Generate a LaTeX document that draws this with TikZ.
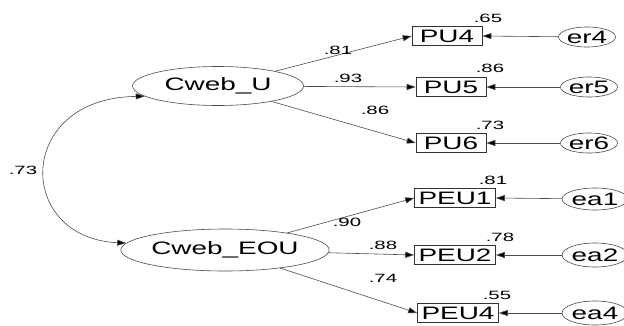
\documentclass[tikz,border=0pt]{standalone}
\usepackage{fontspec}
\usepackage{graphicx}
\setmainfont{Liberation Sans}
\usetikzlibrary{shapes.geometric,arrows.meta}
\newcommand{\bigt}[1]{\scalebox{1.55}[1]{\fontsize{18}{18}\selectfont #1}}
\newcommand{\smt}[1]{\scalebox{1.7}[1]{\fontsize{12}{12}\selectfont #1}}
\tikzset{
  latent/.style={ellipse,draw=black!70,line width=0.6pt,inner sep=0pt,minimum width=171pt,minimum height=39pt},
  obs/.style={rectangle,draw=black!80,line width=0.6pt,inner sep=0pt,minimum width=70pt,minimum height=19pt},
  err/.style={ellipse,draw=black!70,line width=0.6pt,inner sep=0pt,minimum width=56pt,minimum height=20pt},
  lbl/.style={inner sep=0pt},
  arr/.style={draw=black!70,line width=0.6pt,-{Triangle[length=9pt,width=6pt,fill=black]}},
  cov/.style={draw=black!70,line width=0.6pt,{Triangle[length=9pt,width=6pt,fill=black]}-{Triangle[length=9pt,width=6pt,fill=black]}}
}
\begin{document}
\begin{tikzpicture}[x=1pt,y=-1pt]
\useasboundingbox (0,0) rectangle (624,325);
\fill[white] (0,0) rectangle (624,325);
% latent
\node[latent] (CU) at (218,86) {\bigt{Cweb\_U}};
\node[latent,minimum width=184pt,minimum height=42pt] (CE) at (225,250) {\bigt{Cweb\_EOU}};
% observed
\node[obs] (PU4) at (447,36) {\bigt{PU4}};
\node[obs] (PU5) at (451,87) {\bigt{PU5}};
\node[obs] (PU6) at (451,143) {\bigt{PU6}};
\node[obs,minimum width=81pt] (PEU1) at (455,198) {\bigt{PEU1}};
\node[obs,minimum width=81pt] (PEU2) at (455,255) {\bigt{PEU2}};
\node[obs,minimum width=81pt] (PEU4) at (458,313) {\bigt{PEU4}};
% errors
\node[err] (er4) at (587,37) {\bigt{er4}};
\node[err] (er5) at (589,87) {\bigt{er5}};
\node[err] (er6) at (589,143) {\bigt{er6}};
\node[err,minimum height=22pt] (ea1) at (595,199) {\bigt{ea1}};
\node[err,minimum height=24pt] (ea2) at (595,255) {\bigt{ea2}};
\node[err,minimum height=24pt] (ea4) at (595,313) {\bigt{ea4}};
% loadings
\draw[arr] (CU) -- (PU4.west);
\draw[arr] (CU) -- (PU5.west);
\draw[arr] (CU) -- (PU6.west);
\draw[arr] (CE) -- (PEU1.west);
\draw[arr] (CE) -- (PEU2.west);
\draw[arr] (CE) -- (PEU4.west);
% error arrows
\draw[arr] (er4) -- (PU4.east);
\draw[arr] (er5) -- (PU5.east);
\draw[arr] (er6) -- (PU6.east);
\draw[arr] (ea1) -- (PEU1.east);
\draw[arr] (ea2) -- (PEU2.east);
\draw[arr] (ea4) -- (PEU4.east);
% covariance
\draw[cov] (CU.188) .. controls (15,98) and (15,238) .. (CE.176);
% labels
\node[lbl] (l73) at (23,170) {\smt{.73}};
\node[lbl] (l81) at (338,50) {\smt{.81}};
\node[lbl] (l93) at (348,78) {\smt{.93}};
\node[lbl] (l86) at (375,110) {\smt{.86}};
\node[lbl] (l90) at (347,222) {\smt{.90}};
\node[lbl] (l88) at (383,245) {\smt{.88}};
\node[lbl] (l74) at (383,278) {\smt{.74}};
\node[lbl] (r65) at (488,18) {\smt{.65}};
\node[lbl] (r86) at (490,68) {\smt{.86}};
\node[lbl] (r73) at (490,125) {\smt{.73}};
\node[lbl] (r81) at (493,180) {\smt{.81}};
\node[lbl] (r78) at (500,237) {\smt{.78}};
\node[lbl] (r55) at (497,295) {\smt{.55}};
\end{tikzpicture}
\end{document}
